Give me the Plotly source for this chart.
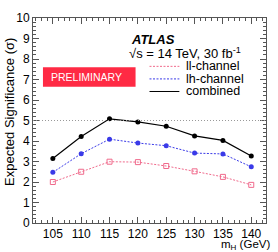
import plotly.graph_objects as go

masses = [105, 110, 115, 120, 125, 130, 135, 140]
combined = [3.15, 4.22, 5.08, 4.93, 4.72, 4.25, 4.03, 3.27]
lh_channel = [2.47, 3.38, 4.09, 3.90, 3.77, 3.41, 3.37, 2.74]
ll_channel = [2.00, 2.50, 2.99, 2.97, 2.78, 2.52, 2.25, 1.86]

FONT = "Liberation Sans, Arial, Helvetica, sans-serif"
PINK = "#f06a8c"
BLUE = "#3a3ae8"
DOT = "2px,1.5px"

fig = go.Figure()
fig.add_trace(go.Scatter(x=masses, y=ll_channel, mode="lines+markers",
                         line=dict(color=PINK, width=1, dash=DOT),
                         marker=dict(symbol="square-open", size=5, color=PINK, line=dict(width=1, color=PINK))))
fig.add_trace(go.Scatter(x=masses, y=lh_channel, mode="lines+markers",
                         line=dict(color=BLUE, width=1, dash=DOT),
                         marker=dict(symbol="circle", size=5, color=BLUE)))
fig.add_trace(go.Scatter(x=masses, y=combined, mode="lines+markers",
                         line=dict(color="black", width=1.2),
                         marker=dict(symbol="circle", size=5, color="black")))

# 5 sigma reference line
fig.add_shape(type="line", xref="paper", yref="y", x0=0, x1=1, y0=5, y1=5,
              line=dict(color="#999999", width=1, dash="1px,2px"))

W, H = 278, 252
l, r, t, b = 33, 11, 11, 29
pw, ph = W - l - r, H - t - b
def px(x): return (x - l) / pw
def py(y): return 1 - (y - t) / ph

leg = [("ll-channel", PINK, DOT, 61), ("lh-channel", BLUE, DOT, 74), ("combined", "black", "solid", 87)]
for name, col, dash, yy in leg:
    fig.add_shape(type="line", xref="paper", yref="paper", x0=px(150), x1=px(180), y0=py(yy), y1=py(yy),
                  line=dict(color=col, width=1, dash=dash))
    fig.add_annotation(xref="paper", yref="paper", x=px(185), y=py(yy), text=name, showarrow=False,
                       xanchor="left", yanchor="middle", font=dict(family=FONT, size=12.5, color="black"))

fig.add_annotation(xref="paper", yref="paper", x=px(129), y=py(33), text="<b><i>ATLAS</i></b>", showarrow=False,
                   xanchor="left", yanchor="middle", font=dict(family=FONT, size=13, color="black"))
fig.add_annotation(xref="paper", yref="paper", x=px(127), y=py(47), text="√s = 14 TeV, 30 fb<sup>-1</sup>",
                   showarrow=False, xanchor="left", yanchor="middle", font=dict(family=FONT, size=13, color="black"))

fig.add_shape(type="rect", xref="paper", yref="paper", x0=px(43), x1=px(136), y0=py(82), y1=py(62),
              fillcolor="#ff2a44", line=dict(width=0), layer="below")
fig.add_annotation(xref="paper", yref="paper", x=px(87), y=py(72), text="PRELIMINARY", showarrow=False,
                   xanchor="center", yanchor="middle", font=dict(family=FONT, size=10.5, color="white"))

fig.update_layout(
    width=W, height=H, margin=dict(l=l, r=r, t=t, b=b),
    paper_bgcolor="white", plot_bgcolor="white", showlegend=False,
    font=dict(family=FONT, size=12, color="black"),
)
fig.update_xaxes(range=[101.5, 142.6], tickvals=masses, ticks="inside", ticklen=6, tickcolor="#555",
                 showline=True, linecolor="#555", linewidth=1, mirror="ticks", showgrid=False, zeroline=False,
                 minor=dict(dtick=1, tick0=100, ticks="inside", ticklen=3, tickcolor="#555"),
                 tickfont=dict(size=12, family=FONT), ticklabelstandoff=0)
fig.update_yaxes(range=[0, 10], dtick=1, ticks="inside", ticklen=6, tickcolor="#555",
                 showline=True, linecolor="#555", linewidth=1, mirror="ticks", showgrid=False, zeroline=False,
                 minor=dict(dtick=0.2, ticks="inside", ticklen=3, tickcolor="#555"),
                 tickfont=dict(size=12, family=FONT), ticklabelstandoff=0)
fig.add_annotation(xref="paper", yref="paper", x=px(10), y=py(108), text="Expected Significance (σ)", textangle=-90,
                   showarrow=False, xanchor="center", yanchor="middle", font=dict(family=FONT, size=13))
fig.add_annotation(xref="paper", yref="paper", x=px(273), y=py(246), text="m<sub>H</sub> (GeV)",
                   showarrow=False, xanchor="right", yanchor="middle", font=dict(family=FONT, size=11.5))

fig.write_html("out.html", config={"displayModeBar": False},
               post_script="document.body.style.margin='0';document.body.style.padding='0';document.body.style.overflow='hidden';")
